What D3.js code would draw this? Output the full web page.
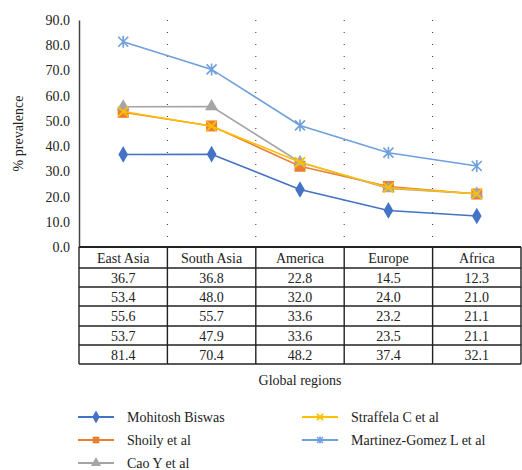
<!DOCTYPE html>
<html><head><meta charset="utf-8">
<script src="https://cdn.jsdelivr.net/npm/d3@7"></script>
</head><body style="margin:0;background:#fff">
<svg id="c" width="522" height="470"></svg>
<script>
const categories = ["East Asia","South Asia","America","Europe","Africa"];
const seriesNames = ["Mohitosh Biswas","Shoily et al","Cao Y et al","Straffela C et al","Martinez-Gomez L et al"];
const biswas = [36.7,36.8,22.8,14.5,12.3];
const shoily = [53.4,48.0,32.0,24.0,21.0];
const cao = [55.6,55.7,33.6,23.2,21.1];
const straffela = [53.7,47.9,33.6,23.5,21.1];
const martinez = [81.4,70.4,48.2,37.4,32.1];
const yTicks = [0,10,20,30,40,50,60,70,80,90];
const colors = ["#4472C4","#ED7D31","#A5A5A5","#FFC000","#6FA0DC"];
const markers = ["diamond","square","triangle","x","star"];
const seriesValues = [biswas,shoily,cao,straffela,martinez];

const svg = d3.select("#c");
const L=79, R=521, T=20, B=247;
const x = d3.scaleBand().domain(categories).range([L,R]).padding(0);
const y = d3.scaleLinear().domain([0,90]).range([B,T]);

function txt(sel){
  return sel.attr("font-family","Liberation Serif").attr("font-size",14)
    .style("font-family","\"Liberation Serif\"","important").style("font-size","14px","important").attr("fill","#222");
}

// dotted vertical gridlines
svg.append("g").selectAll("line").data(categories.slice(1)).join("line")
  .attr("x1",d=>x(d)).attr("x2",d=>x(d)).attr("y1",T).attr("y2",B)
  .attr("stroke","#333").attr("stroke-width",1).attr("stroke-dasharray","1,11");

// y axis
const yAxis = d3.axisLeft(y).tickValues(yTicks).tickFormat(d3.format(".1f")).tickSize(0).tickPadding(9);
const ya = svg.append("g").attr("transform",`translate(${L},0)`).call(yAxis);
ya.attr("font-family","Liberation Serif").attr("font-size",14);
ya.select(".domain").attr("stroke","#444").attr("stroke-width",1.5);
txt(ya.selectAll("text"));

txt(svg.append("text").attr("transform",`translate(23,${(T+B)/2}) rotate(-90)`).attr("text-anchor","middle")).text("% prevalence");

// lines
const line = d3.line().x((d,i)=>x(categories[i])+x.bandwidth()/2).y(d=>y(d));
seriesValues.forEach((vals,si)=>{
  const g = svg.append("g");
  g.append("path").datum(vals).attr("d",line).attr("fill","none").attr("stroke",colors[si]).attr("stroke-width",1.6);
  vals.forEach((v,i)=>{
    const cx = x(categories[i])+x.bandwidth()/2, cy=y(v);
    drawMarker(g,markers[si],cx,cy,colors[si],1);
  });
});

function drawMarker(g,type,cx,cy,col,s){
  if(type==="diamond"){
    g.append("path").attr("d",d3.symbol(d3.symbolDiamond,80*s)()).attr("transform",`translate(${cx},${cy})`).attr("fill",col);
  } else if(type==="square"){
    const h=5.5*s; g.append("rect").attr("x",cx-h).attr("y",cy-h).attr("width",2*h).attr("height",2*h).attr("fill",col);
  } else if(type==="triangle"){
    g.append("path").attr("d",d3.symbol(d3.symbolTriangle,75*s)()).attr("transform",`translate(${cx},${cy})`).attr("fill",col);
  } else if(type==="x"){
    const h=5*s; g.append("path").attr("d",`M${cx-h},${cy-h}L${cx+h},${cy+h}M${cx-h},${cy+h}L${cx+h},${cy-h}`).attr("stroke",col).attr("stroke-width",1.8);
  } else if(type==="star"){
    const h=5*s; g.append("path").attr("d",`M${cx-h},${cy-h}L${cx+h},${cy+h}M${cx-h},${cy+h}L${cx+h},${cy-h}M${cx},${cy-h*1.2}L${cx},${cy+h*1.2}`).attr("stroke",col).attr("stroke-width",1.6);
  }
}

// data table
const rowYs = [247,268,287,306,326,345,364];
const tg = svg.append("g");
tg.selectAll("line.h").data(rowYs).join("line").attr("class","h")
  .attr("x1",L).attr("x2",R).attr("y1",d=>d).attr("y2",d=>d).attr("stroke","#222").attr("stroke-width",(d,i)=>i===0?2:1.6);
const vx = [L].concat(categories.slice(1).map(c=>x(c))).concat([R]);
tg.selectAll("line.v").data(vx).join("line").attr("class","v")
  .attr("x1",d=>d).attr("x2",d=>d).attr("y1",B).attr("y2",364).attr("stroke","#222").attr("stroke-width",1.4);
categories.forEach((c,i)=>{
  txt(tg.append("text").attr("x",x(c)+x.bandwidth()/2).attr("y",(rowYs[0]+rowYs[1])/2+5).attr("text-anchor","middle")).text(c);
});
seriesValues.forEach((vals,si)=>{
  vals.forEach((v,i)=>{
    txt(tg.append("text").attr("x",x(categories[i])+x.bandwidth()/2).attr("y",(rowYs[si+1]+rowYs[si+2])/2+5)
      .attr("text-anchor","middle")).text(d3.format(".1f")(v));
  });
});

txt(svg.append("text").attr("x",(L+R)/2).attr("y",385).attr("text-anchor","middle")).text("Global regions");

// legend
const legPos = [[78,417],[78,440],[78,463],[302,417],[302,440]];
seriesNames.forEach((n,si)=>{
  const [lx,ly]=legPos[si];
  const g=svg.append("g");
  g.append("line").attr("x1",lx).attr("x2",lx+36).attr("y1",ly).attr("y2",ly).attr("stroke",colors[si]).attr("stroke-width",1.8);
  drawMarker(g,markers[si],lx+18,ly,colors[si],0.6);
  txt(g.append("text").attr("x",lx+49).attr("y",ly+5)).text(n);
});
</script></body></html>
